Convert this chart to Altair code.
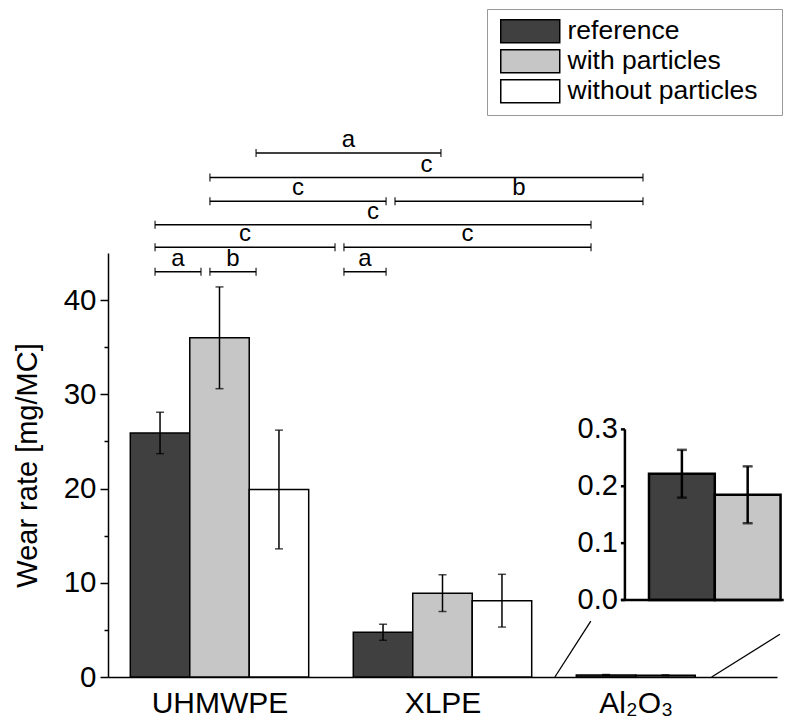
import altair as alt
import pandas as pd

FONT = "Liberation Sans"

# ---------------- data ----------------
categories = ["UHMWPE", "XLPE", "Al₂O₃"]
series = ["reference", "with particles", "without particles"]
fills = ["#404040", "#c6c6c6", "#ffffff"]

ref_vals = [25.9, 4.75, 0.222]
ref_err = [2.2, 0.85, 0.042]
with_vals = [36.0, 8.9, 0.185]
with_err = [5.4, 1.95, 0.05]
without_vals = [19.9, 8.1, None]
without_err = [6.3, 2.8, None]

# significance brackets (x in group units, level height in mg/MC)
br_x1 = [0.211, 0.457, 1.058, 0.211, 1.058, 0.211, 0.457, 1.287, 0.457, 0.664]
br_x2 = [0.417, 0.664, 1.247, 1.018, 2.166, 2.166, 1.247, 2.399, 2.399, 1.493]
br_y = [43.0, 43.0, 43.0, 45.6, 45.6, 48.0, 50.5, 50.5, 53.0, 55.6]
br_lab = ["a", "b", "a", "c", "c", "c", "c", "b", "c", "a"]

# inset (Al2O3 magnified)
inset_series = ["reference", "with particles"]
inset_vals = [0.222, 0.185]
inset_err = [0.042, 0.05]
inset_ticks = [0.0, 0.1, 0.2, 0.3]

# inset geometry in main-axis units
inset_axis_x = 2.318
inset_gap = 0.108
inset_bw = 0.295
inset_end = 3.03
inset_base = 8.17
inset_k = 60.37
tick_len = 0.018

# zoom connector lines
con_x = [2.004, 2.707]
con_y = [0.0, 0.0]
con_x2 = [2.165, 3.013]
con_y2 = [5.94, 4.53]

y_major = [0, 10, 20, 30, 40]
y_minor = [5, 15, 25, 35]

# ---------------- tables ----------------
bw = 0.8 / 3
vals = {
    "reference": (ref_vals, ref_err),
    "with particles": (with_vals, with_err),
    "without particles": (without_vals, without_err),
}
rows = []
for i, cat in enumerate(categories):
    for j, s in enumerate(series):
        v = vals[s][0][i]
        if v is None:
            continue
        e = vals[s][1][i]
        x0 = i + 0.1 + j * bw
        rows.append(dict(category=cat, series=s, value=v, err=e, x0=x0, x1=x0 + bw,
                         xc=x0 + bw / 2, lo=v - e, hi=v + e, zero=0.0))
bars = pd.DataFrame(rows)
caps = pd.concat([bars.assign(yy=bars["lo"]), bars.assign(yy=bars["hi"])])

label_pos = [float(bars[bars.category == c].xc.mean()) for c in categories]
labels_df = pd.DataFrame(dict(pos=label_pos, name=categories))
label_expr = "[" + ",".join("'" + c + "'" for c in categories) + "][floor(datum.value)]"

br = pd.DataFrame(dict(x1=br_x1, x2=br_x2, y=br_y, lab=br_lab))
br["xm"] = (br.x1 + br.x2) / 2
br_ends = pd.concat([br.assign(xx=br.x1), br.assign(xx=br.x2)])

irows = []
for j, s in enumerate(inset_series):
    x0 = inset_axis_x + inset_gap + j * inset_bw
    v, e = inset_vals[j], inset_err[j]
    irows.append(dict(series=s, x0=x0, x1=x0 + inset_bw, xc=x0 + inset_bw / 2,
                      y=inset_base + v * inset_k, base=inset_base,
                      lo=inset_base + (v - e) * inset_k, hi=inset_base + (v + e) * inset_k))
ibars = pd.DataFrame(irows)
icaps = pd.concat([ibars.assign(yy=ibars["lo"]), ibars.assign(yy=ibars["hi"])])

iticks = pd.DataFrame(dict(t=inset_ticks))
iticks["y"] = inset_base + iticks.t * inset_k
iticks["x"] = inset_axis_x - tick_len
iticks["x2"] = inset_axis_x
iticks["lab"] = [f"{t:.1f}" for t in inset_ticks]

iaxes = pd.DataFrame(dict(
    x=[inset_axis_x, inset_axis_x - tick_len],
    x2=[inset_axis_x, inset_end],
    y=[inset_base, inset_base],
    y2=[inset_base + max(inset_ticks) * inset_k, inset_base],
))

conn = pd.DataFrame(dict(x=con_x, y=con_y, x2=con_x2, y2=con_y2))
minor = pd.DataFrame(dict(v=y_minor))

# ---------------- scales ----------------
xs = alt.Scale(domain=[0, 3], nice=False, zero=False)
ys = alt.Scale(domain=[0, 45], nice=False)
color = alt.Color(
    "series:N",
    scale=alt.Scale(domain=series, range=fills),
    legend=alt.Legend(
        orient="none", legendX=379, legendY=-244, title=None,
        # swatch rectangle plus an invisible zero-length segment that widens the frame
        symbolType="M-2.565,-1H2.565V1H-2.565Z M20.8,0L20.8,0", symbolSize=529,
        symbolStrokeColor="black", symbolStrokeWidth=1.5, symbolOpacity=1,
        symbolOffset=21, labelOffset=24, labelLimit=400,
        labelFontSize=26.5, labelFont=FONT, labelColor="black",
        padding=9, rowPadding=0, strokeColor="#999999",
    ),
)


def X(f, **kw):
    return alt.X(f, scale=xs, axis=None, **kw)


def Y(f, **kw):
    return alt.Y(f, scale=ys, axis=None, **kw)


x_axis = alt.Chart(labels_df).mark_rule(opacity=0).encode(
    x=alt.X("pos:Q", scale=xs, title=None,
            axis=alt.Axis(values=label_pos, labelExpr=label_expr, ticks=False,
                          orient="bottom",
                          domainColor="black", domainWidth=1.5, labelFontSize=30,
                          labelFont=FONT, labelColor="black", labelPadding=11,
                          grid=False, labelFlush=False, title=None)),
    y=alt.value(0),
)

main_bars = alt.Chart(bars).mark_rect(stroke="black", strokeWidth=1.5).encode(
    x=X("x0:Q"),
    x2="x1:Q",
    y=alt.Y("value:Q", scale=ys, title="Wear rate [mg/MC]",
            axis=alt.Axis(values=y_major, orient="left", tickSize=8, tickWidth=1.5,
                          tickColor="black", domainColor="black", domainWidth=1.5,
                          labelFontSize=29.5, labelFont=FONT, labelColor="black",
                          labelPadding=4, titleFontSize=29, titleFont=FONT,
                          titleFontWeight="normal", titleColor="black",
                          titlePadding=21, grid=False)),
    y2="zero:Q",
    color=color,
)

minor_axis = alt.Chart(minor).mark_point(opacity=0).encode(
    x=alt.value(0),
    y=alt.Y("v:Q", scale=ys, title=None,
            axis=alt.Axis(values=y_minor, orient="left", tickSize=4, tickWidth=1.5,
                          tickColor="black", labels=False, domain=False, grid=False,
                          title=None)),
)

err_rules = alt.Chart(bars).mark_rule(color="black", strokeWidth=1.5).encode(
    x=X("xc:Q"), y=Y("lo:Q"), y2="hi:Q")
err_caps = alt.Chart(caps).mark_tick(orient="horizontal", color="black", size=8,
                                     thickness=1.5).encode(x=X("xc:Q"), y=Y("yy:Q"))

br_rules = alt.Chart(br).mark_rule(color="black", strokeWidth=1.5).encode(
    x=X("x1:Q"), x2="x2:Q", y=Y("y:Q"))
br_ticks = alt.Chart(br_ends).mark_tick(orient="vertical", color="black", size=8,
                                        thickness=1.5).encode(x=X("xx:Q"), y=Y("y:Q"))
br_text = alt.Chart(br).mark_text(baseline="bottom", dy=-1, fontSize=24, font=FONT,
                                  color="black").encode(x=X("xm:Q"), y=Y("y:Q"), text="lab:N")

connectors = alt.Chart(conn).mark_rule(color="black", strokeWidth=1.3).encode(
    x=X("x:Q"), y=Y("y:Q"), x2="x2:Q", y2="y2:Q")

in_bars = alt.Chart(ibars).mark_rect(stroke="black", strokeWidth=2.5).encode(
    x=X("x0:Q"), x2="x1:Q", y=Y("y:Q"), y2="base:Q",
    fill=alt.Fill("series:N", scale=alt.Scale(domain=series, range=fills), legend=None))
in_err = alt.Chart(ibars).mark_rule(color="black", strokeWidth=2.5).encode(
    x=X("xc:Q"), y=Y("lo:Q"), y2="hi:Q")
in_caps = alt.Chart(icaps).mark_tick(orient="horizontal", color="black", size=10,
                                     thickness=2.5).encode(x=X("xc:Q"), y=Y("yy:Q"))
in_axes = alt.Chart(iaxes).mark_rule(color="black", strokeWidth=2.5).encode(
    x=X("x:Q"), x2="x2:Q", y=Y("y:Q"), y2="y2:Q")
in_ticks = alt.Chart(iticks).mark_rule(color="black", strokeWidth=2.5).encode(
    x=X("x:Q"), x2="x2:Q", y=Y("y:Q"))
in_labels = alt.Chart(iticks).mark_text(align="right", baseline="middle", dx=-3,
                                        fontSize=29, font=FONT, color="black").encode(
    x=X("x:Q"), y=Y("y:Q"), text="lab:N")

chart = alt.layer(
    x_axis, main_bars, minor_axis, err_rules, err_caps, br_rules, br_ticks, br_text,
    connectors, in_bars, in_err, in_caps, in_axes, in_ticks, in_labels,
).resolve_axis(x="independent", y="independent").resolve_scale(fill="independent").properties(
    width=669, height=424,
    padding={"left": 100, "top": 245, "right": 8, "bottom": 45},
    autosize=alt.AutoSizeParams(type="none"),
).configure(font=FONT).configure_view(stroke=None)

chart.save("out.html", embed_options={"renderer": "svg", "actions": False})
